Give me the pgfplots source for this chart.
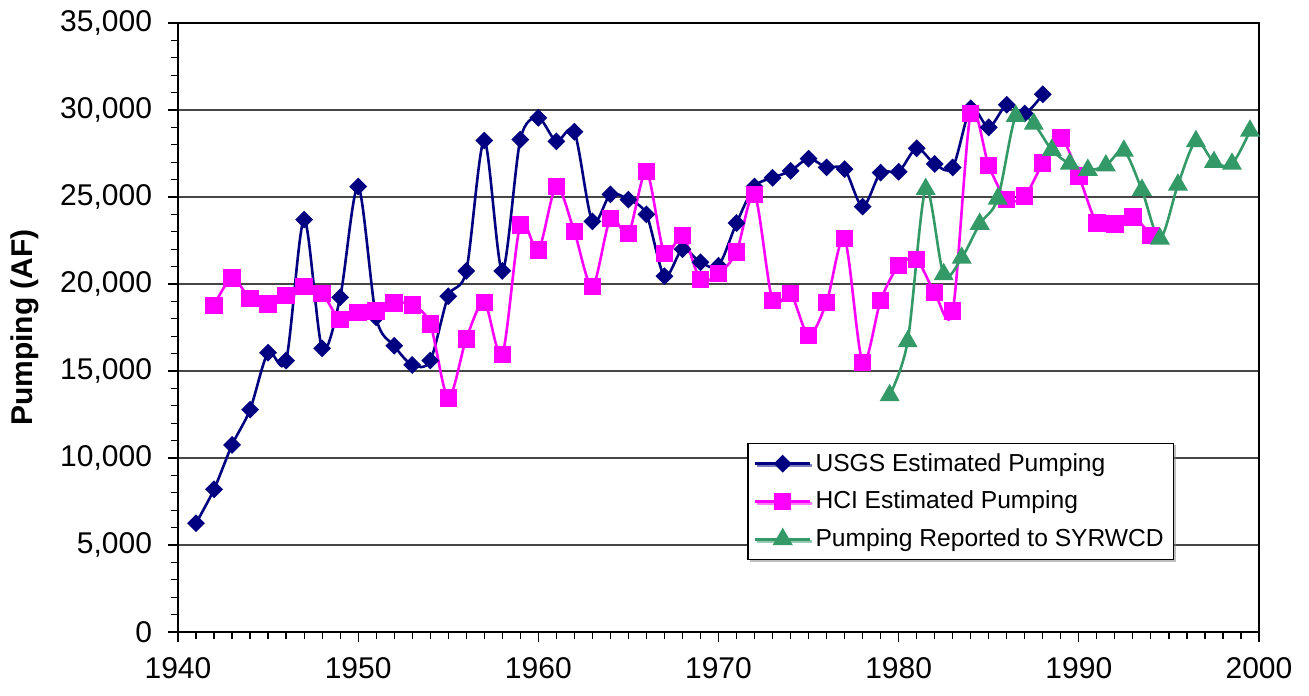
\documentclass[border=0pt]{standalone}
\usepackage{pgfplots}
\pgfplotsset{compat=1.18}
\usepackage{fontspec}
\setmainfont{Liberation Sans}
\usetikzlibrary{shadows}
\definecolor{usgs}{RGB}{0,0,128}
\definecolor{hci}{RGB}{255,0,255}
\definecolor{syr}{RGB}{51,153,102}
\definecolor{gridc}{RGB}{70,70,70}
\begin{document}
\begin{tikzpicture}
\useasboundingbox (-89bp,-32bp) rectangle (565.5bp,316bp);
\begin{axis}[
  at={(0,0)}, anchor=south west,
  scale only axis, width=540.5bp, height=304.5bp,
  xmin=1940, xmax=2000, ymin=0, ymax=35000,
  xtick={1940,1950,...,2000}, ytick={0,5000,...,35000},
  minor x tick num=9, minor y tick num=4,
  tick pos=left, tick align=outside,
  major tick length=5bp, minor tick length=3.5bp,
  every tick/.style={black, line width=0.6bp},
  axis line style={black, line width=1.2bp},
  ymajorgrids, major grid style={gridc, line width=0.6bp},
  scaled y ticks=false,
  /pgf/number format/assume math mode=true,
  yticklabel style={/pgf/number format/1000 sep={,}, font=\fontsize{15bp}{18bp}\selectfont, xshift=-4.5bp},
  xticklabel style={/pgf/number format/1000 sep={}, font=\fontsize{15bp}{18bp}\selectfont, yshift=-4.5bp},
  ylabel={Pumping (AF)},
  every axis y label/.style={at={(axis description cs:-0.1415,0.5)}, anchor=center, rotate=90, font=\fontsize{15bp}{18bp}\selectfont\bfseries},
  legend style={at={(axis cs:1971.6,10880)}, anchor=north west, draw=black, line width=0.6bp, fill=white,
    drop shadow={shadow xshift=1bp, shadow yshift=-1bp, fill=gray},
    font=\fontsize{12.3bp}{14bp}\selectfont, row sep=4.5bp, inner sep=3bp},
  legend cell align=left,
  legend image code/.code={\draw[mark repeat=2,mark phase=2] plot coordinates {(0bp,0bp) (13.75bp,0bp) (27.5bp,0bp)};},
  clip=false,
]
\addplot[usgs, line width=1.3bp, smooth, tension=0.5, mark=square*, mark size=2.5bp, mark options={rotate=45, solid, fill=usgs}] coordinates {
(1941,6250) (1942,8200) (1943,10750) (1944,12780) (1945,16050) (1946,15600) (1947,23700) (1948,16300) (1949,19230) (1950,25600)
(1951,18080) (1952,16450) (1953,15350) (1954,15600) (1955,19300) (1956,20750) (1957,28250) (1958,20750) (1959,28300) (1960,29550)
(1961,28200) (1962,28750) (1963,23600) (1964,25150) (1965,24850) (1966,24000) (1967,20450) (1968,22000) (1969,21250) (1970,21050)
(1971,23500) (1972,25600) (1973,26100) (1974,26500) (1975,27200) (1976,26700) (1977,26600) (1978,24450) (1979,26400) (1980,26450)
(1981,27800) (1982,26900) (1983,26700) (1984,30100) (1985,29000) (1986,30300) (1987,29800) (1988,30900)
};
\addlegendentry{USGS Estimated Pumping}
\addplot[hci, line width=1.3bp, smooth, tension=0.5, mark=square*, mark size=3.7bp, mark options={solid, fill=hci}] coordinates {
(1942,18750) (1943,20350) (1944,19150) (1945,18850) (1946,19350) (1947,19850) (1948,19450) (1949,17950) (1950,18350)
(1951,18450) (1952,18900) (1953,18800) (1954,17700) (1955,13450) (1956,16850) (1957,18950) (1958,15950) (1959,23400) (1960,21950)
(1961,25600) (1962,23000) (1963,19850) (1964,23750) (1965,22900) (1966,26450) (1967,21750) (1968,22800) (1969,20250) (1970,20600)
(1971,21850) (1972,25150) (1973,19050) (1974,19450) (1975,17050) (1976,18950) (1977,22600) (1978,15500) (1979,19050) (1980,21050)
(1981,21400) (1982,19500) (1983,18450) (1984,29800) (1985,26800) (1986,24850) (1987,25050) (1988,26950) (1989,28400) (1990,26200)
(1991,23500) (1992,23450) (1993,23850) (1994,22800)
};
\addlegendentry{HCI Estimated Pumping}
\addplot[syr, line width=1.3bp, smooth, tension=0.5, mark=triangle*, mark size=4.5bp, mark options={solid, fill=syr}] coordinates {
(1979.5,13600) (1980.5,16700) (1981.5,25450) (1982.5,20550) (1983.5,21500) (1984.5,23450) (1985.5,24900) (1986.5,29650)
(1987.5,29200) (1988.5,27700) (1989.5,26900) (1990.5,26550) (1991.5,26800) (1992.5,27650) (1993.5,25400) (1994.5,22600)
(1995.5,25700) (1996.5,28200) (1997.5,27000) (1998.5,26900) (1999.5,28800)
};
\addlegendentry{Pumping Reported to SYRWCD}
\end{axis}
\end{tikzpicture}
\end{document}
